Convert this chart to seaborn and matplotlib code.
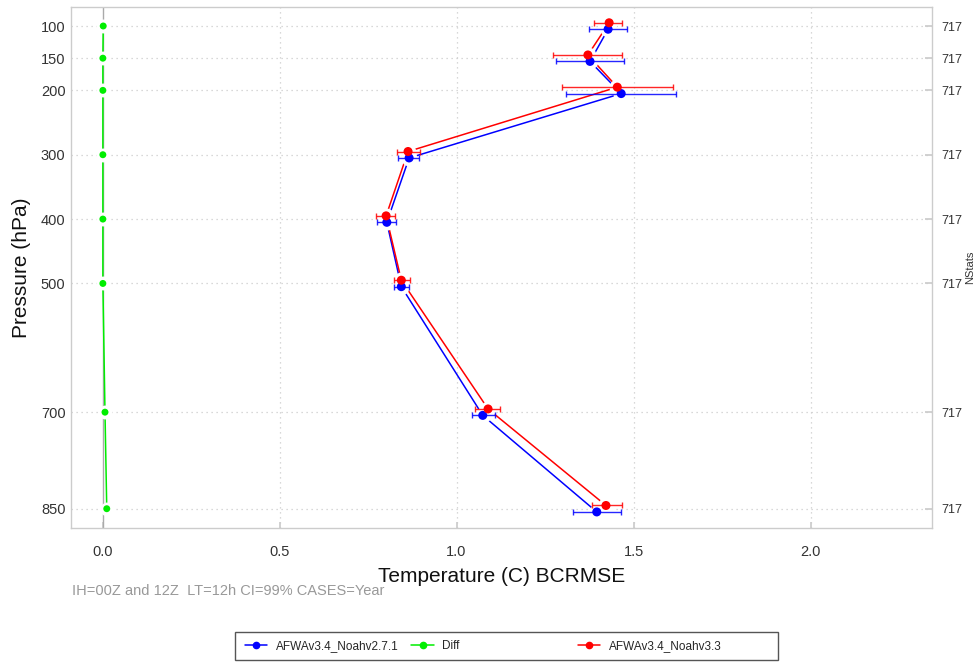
import numpy as np
import pandas as pd
import matplotlib
matplotlib.use("Agg")
import matplotlib.pyplot as plt
from matplotlib.legend_handler import HandlerLine2D
from matplotlib.lines import Line2D
from matplotlib.patches import Rectangle
import seaborn as sns

# Pressure levels (hPa) and sample counts
levels = [100, 150, 200, 300, 400, 500, 700, 850]
nstats = [717, 717, 717, 717, 717, 717, 717, 717]

# AFWAv3.4_Noahv2.7.1 BCRMSE with 99% CI bounds
blue_vals = [1.428, 1.377, 1.465, 0.866, 0.803, 0.844, 1.074, 1.396]
blue_lo = [1.374, 1.281, 1.309, 0.835, 0.775, 0.823, 1.044, 1.329]
blue_hi = [1.482, 1.473, 1.620, 0.894, 0.829, 0.866, 1.108, 1.464]

# AFWAv3.4_Noahv3.3 BCRMSE with 99% CI bounds
red_vals = [1.431, 1.371, 1.454, 0.863, 0.801, 0.844, 1.089, 1.422]
red_lo = [1.389, 1.273, 1.298, 0.832, 0.773, 0.823, 1.052, 1.383]
red_hi = [1.468, 1.468, 1.611, 0.897, 0.826, 0.869, 1.123, 1.467]

# Difference between the two runs
diff_vals = [0.002, 0.001, 0.001, 0.001, 0.001, 0.001, 0.007, 0.012]

x_ticks = [0.0, 0.5, 1.0, 1.5, 2.0]
x_ticklabels = ["0.0", "0.5", "1.0", "1.5", "2.0"]

BLUE, RED, GREEN = "#0000ff", "#ff0000", "#00ee00"
LABEL_BLUE = "AFWAv3.4_Noahv2.7.1"
LABEL_DIFF = "Diff"
LABEL_RED = "AFWAv3.4_Noahv3.3"

sns.set_theme(style="white")
plt.rcParams["font.family"] = ["Liberation Sans", "DejaVu Sans"]

fig = plt.figure(figsize=(9.78, 6.62), dpi=100)
ax = fig.add_axes([0.0726, 0.2024, 0.8804, 0.787])

# small vertical shift so the two models do not sit on top of each other
shift = 5.0
series = [
    (LABEL_BLUE, BLUE, np.array(blue_vals), np.array(blue_lo), np.array(blue_hi), +shift, 6.5),
    (LABEL_DIFF, GREEN, np.array(diff_vals), None, None, 0.0, 5.0),
    (LABEL_RED, RED, np.array(red_vals), np.array(red_lo), np.array(red_hi), -shift, 6.5),
]

lev = np.array(levels, dtype=float)
for name, col, vals, lo, hi, dp, ms in series:
    df = pd.DataFrame({"value": vals, "pressure": lev + dp})
    sns.lineplot(data=df, x="value", y="pressure", sort=False, orient="y",
                 color=col, lw=1.1, ax=ax, zorder=2, legend=False)
    # white halo leaves a short gap between line and point
    ax.plot(df["value"], df["pressure"], ls="none", marker="o", ms=ms + 4,
            mfc="white", mec="white", zorder=3)

for name, col, vals, lo, hi, dp, ms in series:
    if lo is not None:
        ax.errorbar(vals, lev + dp, xerr=[vals - lo, hi - vals], fmt="none",
                    ecolor=col, elinewidth=1.0, capsize=2.5, capthick=1.0,
                    zorder=4, alpha=0.85)

for name, col, vals, lo, hi, dp, ms in series:
    df = pd.DataFrame({"value": vals, "pressure": lev + dp})
    sns.scatterplot(data=df, x="value", y="pressure", color=col, s=ms ** 2,
                    edgecolor="none", ax=ax, zorder=5, legend=False)

ax.set_xlim(-0.089, 2.343)
ax.set_ylim(880, 70.5)

# grid
for p in levels:
    ax.axhline(p, color="#cccccc", lw=0.9, ls=(0, (1, 3)), zorder=0)
for xv in x_ticks[1:]:
    ax.axvline(xv, color="#cccccc", lw=0.9, ls=(0, (1, 3)), zorder=0)
ax.axvline(0.0, color="#aaaaaa", lw=1.0, zorder=1)

ax.set_xticks(x_ticks)
ax.set_xticklabels(x_ticklabels)
ax.set_yticks(levels)
ax.set_yticklabels([str(p) for p in levels])
ax.tick_params(axis="x", direction="in", length=4, color="#cccccc",
               pad=12, labelsize=10.5, labelcolor="#333333", bottom=True)
ax.tick_params(axis="y", length=0, pad=4, labelsize=10.5, labelcolor="#333333")
for s in ax.spines.values():
    s.set_color("#cccccc")
    s.set_linewidth(1.0)

ax.set_xlabel("Temperature (C) BCRMSE", fontsize=15, color="#111111", labelpad=6)
ax.set_ylabel("Pressure (hPa)", fontsize=15, color="#111111", labelpad=7)

# sample counts on the right
ax2 = ax.twinx()
ax2.set_ylim(ax.get_ylim())
ax2.set_yticks(levels)
ax2.set_yticklabels([str(n) for n in nstats])
ax2.tick_params(axis="y", direction="in", length=5, color="#cccccc", pad=7,
                labelsize=9, labelcolor="#333333", right=True)
ax2.set_ylabel("NStats", fontsize=8, color="#333333", labelpad=2)
for s in ax2.spines.values():
    s.set_visible(False)
ax2.grid(False)

fig.text(0.0736, 1 - 591 / 662, "IH=00Z and 12Z  LT=12h CI=99% CASES=Year",
         fontsize=10.5, color="#999999", va="center", ha="left")


class EndMarkerHandler(HandlerLine2D):
    def get_xdata(self, legend, xdescent, ydescent, width, height, fontsize):
        xdata = np.array([-xdescent, -xdescent + width])
        return xdata, np.array([-xdescent + width])


# horizontal legend with equal-width slots inside one frame
W, H = 978.0, 662.0
frame_x0, frame_x1, frame_y0, frame_y1 = 235, 778, 2, 30
fig.patches.append(Rectangle((frame_x0 / W, frame_y0 / H),
                             (frame_x1 - frame_x0) / W, (frame_y1 - frame_y0) / H,
                             transform=fig.transFigure, fill=True,
                             facecolor="white", edgecolor="#555555", lw=1.0,
                             zorder=1))
slot_x = [245, 411.5, 578]
for (name, col, *_), sx in zip(series, slot_x):
    h = Line2D([], [], color=col, lw=1.1, marker="o", ms=4.5)
    lg = fig.legend([h], [name], loc="center left",
                    bbox_to_anchor=(sx / W, (frame_y0 + frame_y1) / 2 / H),
                    frameon=False, fontsize=8.5, handlelength=1.9,
                    handletextpad=0.7, numpoints=1, borderpad=0,
                    borderaxespad=0,
                    handler_map={Line2D: EndMarkerHandler()})
    lg.set_zorder(2)

fig.savefig("out.png", dpi=100)
